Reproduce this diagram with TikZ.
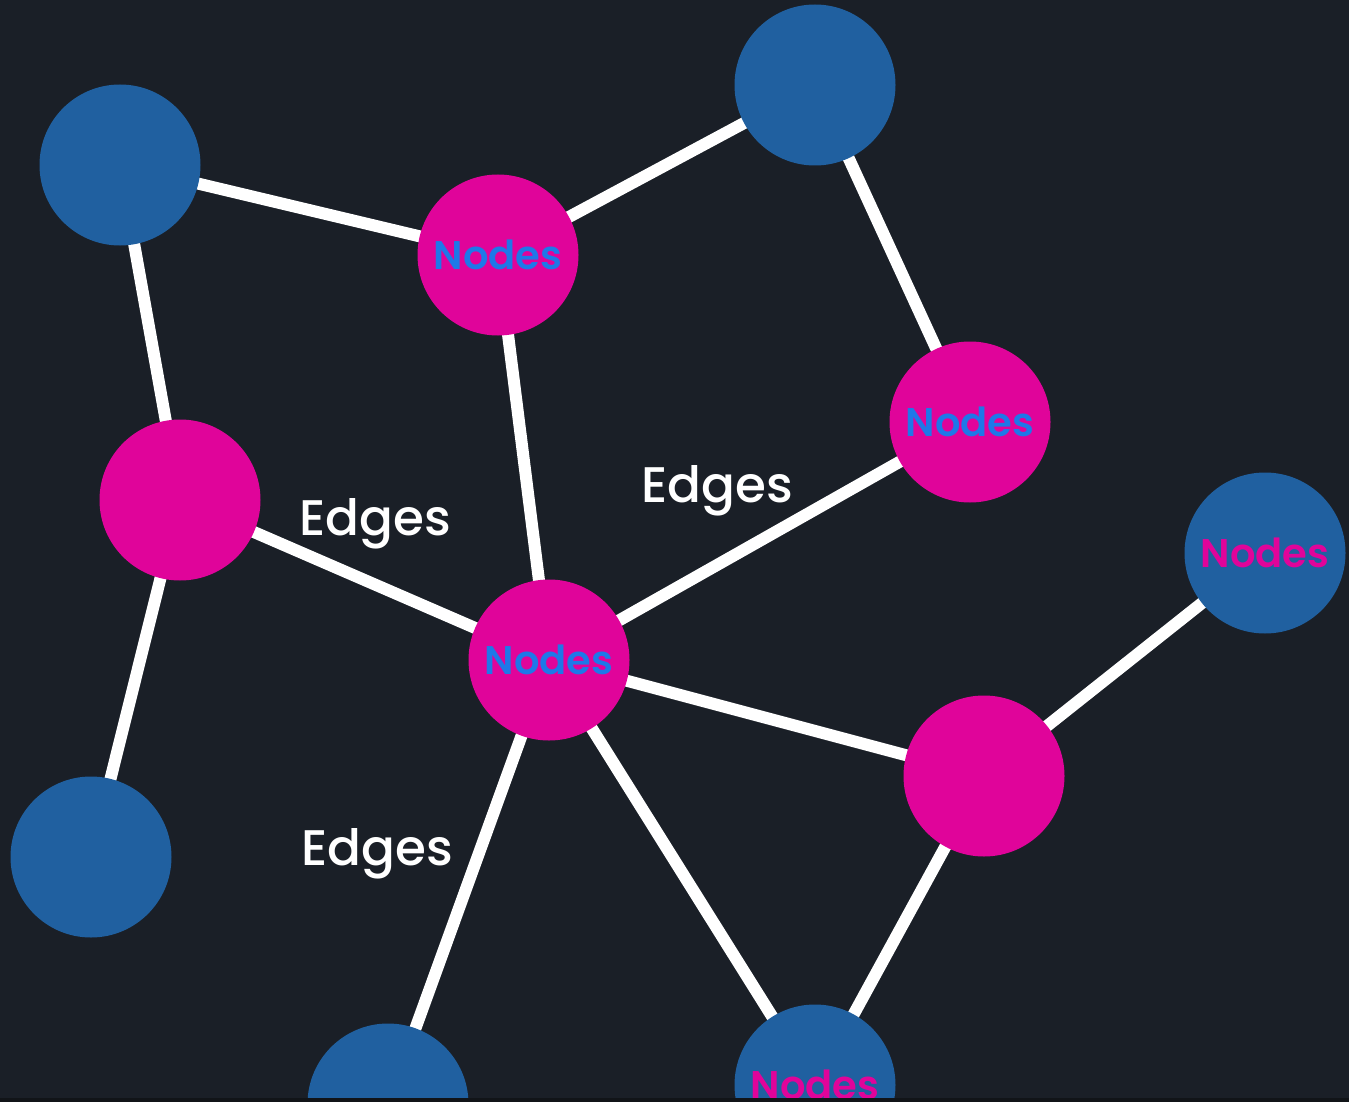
\documentclass[tikz,border=0pt]{standalone}
\usepackage{fontspec}
\setmainfont{Poppins Medium}
\newfontfamily\nodefont{Poppins SemiBold}
\definecolor{bgc}{HTML}{1A1F27}
\definecolor{bandc}{HTML}{111418}
\definecolor{nblue}{HTML}{2060A0}
\definecolor{nmag}{HTML}{E0049A}
\definecolor{tblue}{HTML}{1E78E8}
\pgfdeclarelayer{bglayer}
\pgfdeclarelayer{edgelayer}
\pgfdeclarelayer{toplayer}
\pgfsetlayers{bglayer,edgelayer,main,toplayer}
\tikzset{
  bnode/.style={circle,fill=nblue,minimum size=161pt,inner sep=0pt,text=nmag,font=\nodefont\fontsize{40}{40}\selectfont},
  mnode/.style={circle,fill=nmag,minimum size=161pt,inner sep=0pt,text=tblue,font=\nodefont\fontsize{40}{40}\selectfont},
  edge/.style={draw=white,line width=12pt},
  elabel/.style={text=white,font=\fontsize{50}{50}\selectfont,inner sep=0pt}
}
\begin{document}
\begin{tikzpicture}[x=1pt,y=-1pt]
\useasboundingbox (0,0) rectangle (1349,1102);
\begin{pgfonlayer}{bglayer}
\fill[bgc] (0,0) rectangle (1349,1102);
\end{pgfonlayer}
\begin{pgfonlayer}{toplayer}
\fill[bandc] (0,1098) rectangle (1349,1102);
\end{pgfonlayer}
\node[bnode] (A) at (120,165) {};
\node[mnode] (B) at (498,255) {Nodes};
\node[bnode] (C) at (815,85) {};
\node[mnode] (D) at (970,422) {Nodes};
\node[mnode] (E) at (180,500) {};
\node[mnode] (F) at (549,660) {Nodes};
\node[bnode] (G) at (1265,553) {Nodes};
\node[mnode] (H) at (984,776) {};
\node[bnode] (I) at (91,857) {};
\node[bnode] (J) at (388,1104) {};
\node[bnode] (K) at (815,1085) {Nodes};
\node[elabel] (L1) at (375,524) {Edges};
\node[elabel] (L2) at (717,491) {Edges};
\node[elabel] (L3) at (377,854) {Edges};
\begin{pgfonlayer}{edgelayer}
\draw[edge] (A.center) -- (B.center);
\draw[edge] (B.center) -- (C.center);
\draw[edge] (A.center) -- (E.center);
\draw[edge] (B.center) -- (F.center);
\draw[edge] (C.center) -- (D.center);
\draw[edge] (D.center) -- (F.center);
\draw[edge] (E.center) -- (F.center);
\draw[edge] (E.center) -- (I.center);
\draw[edge] (F.center) -- (H.center);
\draw[edge] (F.center) -- (J.center);
\draw[edge] (F.center) -- (K.center);
\draw[edge] (H.center) -- (G.center);
\draw[edge] (H.center) -- (K.center);
\end{pgfonlayer}
\end{tikzpicture}
\end{document}
